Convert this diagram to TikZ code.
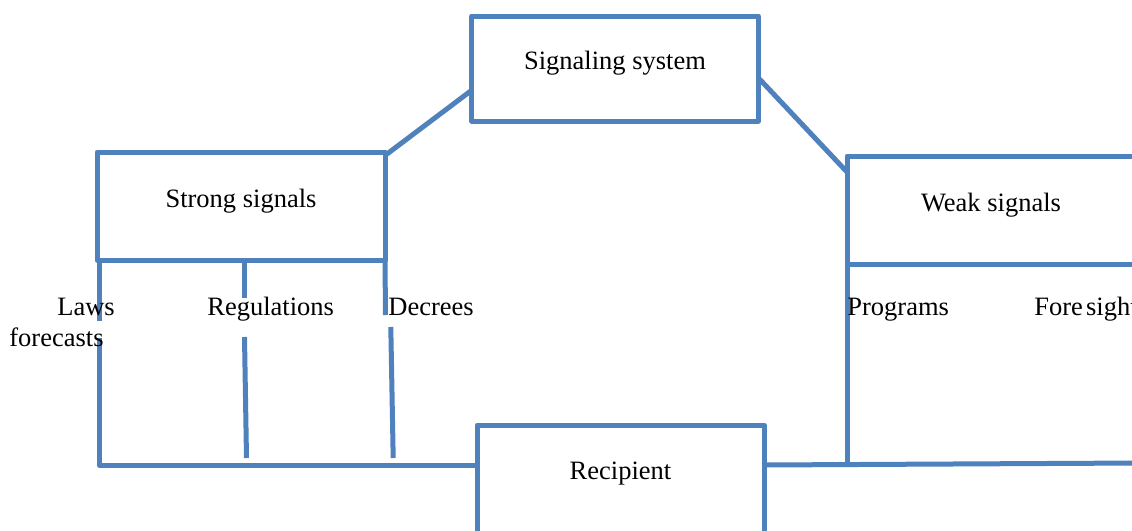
\documentclass[tikz,border=0pt]{standalone}
\usepackage{fontspec}
\setmainfont{Liberation Serif}
\usetikzlibrary{calc}
\definecolor{lineblue}{HTML}{4F81BD}
\begin{document}
\begin{tikzpicture}[x=0.5pt,y=-0.5pt,
  box/.style={draw=lineblue, line width=2.5pt, fill=white, inner sep=0pt, outer sep=0pt, line join=round},
  lbl/.style={inner sep=0pt, yshift=2.6pt, font=\fontsize{13.25}{16}\selectfont},
  conn/.style={draw=lineblue, line width=2.5pt},
  txt/.style={inner sep=0pt, anchor=base west, font=\fontsize{13.25}{16}\selectfont}]
\clip (0,0) rectangle (1132,531);
\fill[white] (0,0) rectangle (1132,531);

% boxes
\node[box, minimum width=143.25pt, minimum height=52.5pt,
  label={[lbl]center:Signaling system}] (sig) at (615,68.5) {};
\node[box, minimum width=144pt, minimum height=54pt,
  label={[lbl]center:Strong signals}] (strong) at (241,206) {};
\node[box, minimum width=146.5pt, minimum height=54pt] (weak) at (993.5,210) {};
\node[lbl] (weaktxt) at (991,210) {Weak signals};
\node[box, minimum width=143.5pt, minimum height=54pt,
  label={[lbl]center:Recipient}] (rec) at (620.5,479) {};

% connector end points
\coordinate (s1) at (387,154);
\coordinate (g1) at (472,90);
\coordinate (g2) at (758.5,78);
\coordinate (w1) at (847,172);
\coordinate (la) at (99.5,260);
\coordinate (lb) at (99.5,321);
\coordinate (lc) at (99.5,338);
\coordinate (ld) at (99.5,465.5);
\coordinate (rw) at (477,465.5);
\coordinate (ra) at (244,260);
\coordinate (rb) at (244,298);
\coordinate (rc) at (244.5,337);
\coordinate (rd) at (246.5,458);
\coordinate (da) at (385,260);
\coordinate (db) at (385.5,315);
\coordinate (dc) at (390.8,327);
\coordinate (dd) at (393.2,458);
\coordinate (wa) at (847,264);
\coordinate (wb) at (847,464);
\coordinate (re) at (764,465);
\coordinate (rr) at (1140,463);

% connectors
\draw[conn] (s1) -- (g1);
\draw[conn] (g2) -- (w1);
\draw[conn] (la) -- (lb);
\draw[conn, line join=round] (lc) -- (ld) -- (rw);
\draw[conn] (ra) -- (rb);
\draw[conn] (rc) -- (rd);
\draw[conn] (da) -- (db);
\draw[conn] (dc) -- (dd);
\draw[conn] (wa) -- (wb);
\draw[conn] (re) -- (rr);

% texts
\node[txt] (laws) at (57,315) {Laws};
\node[txt] (fore) at (9,346) {forecasts};
\node[txt] (regs) at (207,315) {Regulations};
\node[txt] (decr) at (388,315) {Decrees};
\node[txt] (prog) at (847,315) {Programs};
\node[txt] (fsight) at (1034,315) {Fore\hspace{0.12em}sight};
\end{tikzpicture}
\end{document}
